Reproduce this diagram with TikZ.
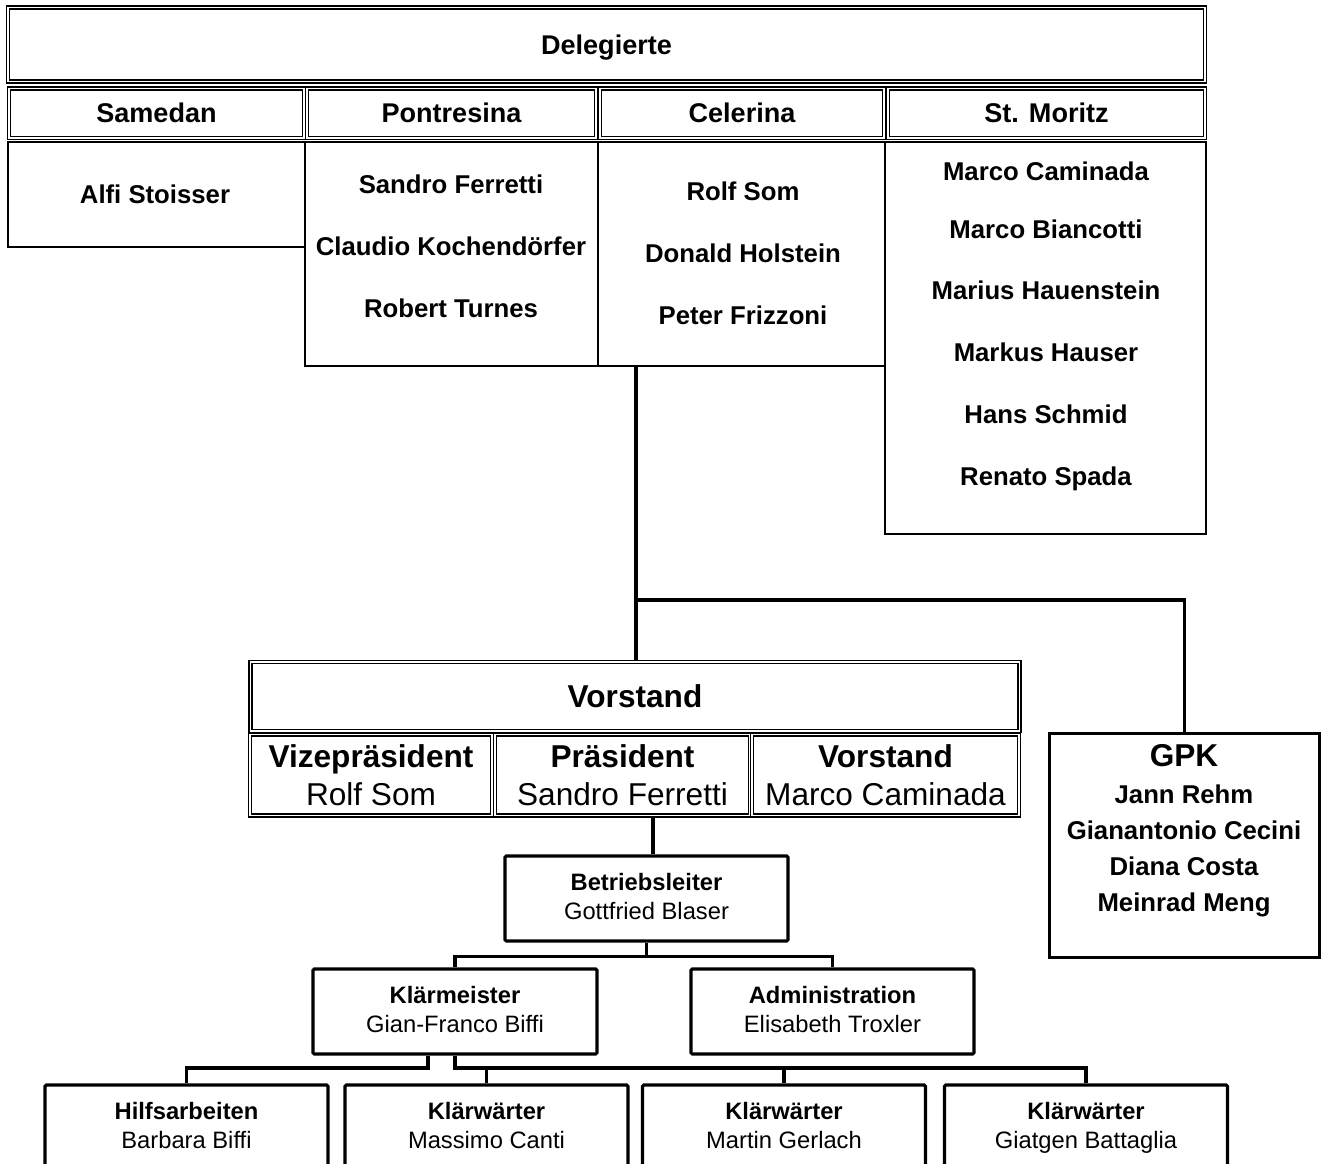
\documentclass[tikz,border=0pt]{standalone}
\usepackage{fontspec}
\setmainfont{Liberation Sans}
\newcommand\tief{\rule[-3.8pt]{0pt}{1pt}}
\tikzset{sc/.style={x=.75pt,y=-.75pt},
  sz/.style 2 args={minimum width=#1*.75pt,minimum height=#2*.75pt,inner sep=0pt},
  dbl/.style={draw,double,line width=1.2pt,double distance=1.2pt},
  box/.style={draw,line width=2pt},
  bx/.style={draw,line width=2.3pt,rounded corners=1pt,align=center,font=\fontsize{17.8}{21.75}\selectfont},
  ln/.style={line width=2.3pt},
  hd/.style={font=\fontsize{20.3}{24}\selectfont\bfseries,text height=14.5pt,text depth=0pt},
  nm/.style={font=\fontsize{19.3}{23}\selectfont\bfseries,inner sep=0pt,text height=13.8pt,text depth=0pt},
  vs/.style={align=center,font=\fontsize{23.7}{28.5}\selectfont}}

\begin{document}
\begin{tikzpicture}[sc]
  \useasboundingbox (0,0) rectangle (1322,1164);
  \clip (0,0) rectangle (1322,1164);
  % Delegierte
  \node[box,sz={297}{105}] (sam) at (156.5,194.5) {};
  \node[box,sz={293}{224}] (pon) at (451.5,254) {};
  \node[box,sz={287}{224}] (cel) at (741.5,254) {};
  \node[box,sz={321}{392}] (stm) at (1045.5,338) {};
  \node[dbl,sz={1197}{74},hd] (del) at (606.5,44.5) {Delegierte};
  \foreach \n/\x/\w/\t in {sam/156.5/295/Samedan,pon/451.5/289/Pontresina,cel/742/284/Celerina,stm/1046.5/317/St. Moritz}
    \node[dbl,sz={\w}{49.5},hd] (\n-h) at (\x,113.25) {\t};
  \node[nm] (sam-1) at (155,194) {Alfi Stoisser};
  \foreach \t [count=\i] in {Sandro Ferretti,Claudio Kochendörfer,Robert Turnes}
    \node[nm] (pon-\i) at (451,{122+62*\i}) {\t};
  \foreach \t [count=\i] in {Rolf Som,Donald Holstein,Peter Frizzoni}
    \node[nm] (cel-\i) at (743,{129+62*\i}) {\t};
  \foreach \y/\t [count=\i] in {171/Marco Caminada,229/Marco Biancotti,290/Marius Hauenstein,352/Markus Hauser,414/Hans Schmid,476/Renato Spada}
    \node[nm] (stm-\i) at (1046,\y) {\t};
  % Vorstand
  \node[dbl,sz={769}{69},font=\fontsize{23.7}{28}\selectfont\bfseries] (vt) at (635,696.5) {Vorstand};
  \node[dbl,sz={242}{81},vs] (vz) at (371,775) {\textbf{Vizepräsident}\\Rolf Som};
  \node[dbl,sz={255}{81},vs] (pr) at (622.5,775) {\textbf{Präsident}\\Sandro Ferretti};
  \node[dbl,sz={267}{81},vs] (vo) at (885.5,775) {\textbf{Vorstand}\\Marco Caminada};
  % GPK
  \node[draw,line width=2.2pt,sz={270}{224}] (gpk) at (1184.5,845.5) {};
  \node[font=\fontsize{23.7}{28}\selectfont\bfseries,inner sep=0pt,text height=17pt,text depth=0pt] (gpk-t) at (1184,755) {GPK};
  \foreach \t [count=\i] in {Jann Rehm,Gianantonio Cecini,Diana Costa,Meinrad Meng}
    \node[nm] (gpk-\i) at (1184,{758+36*\i}) {\t};
  % Betrieb
  \node[bx,sz={283}{85}] (bl) at (646.5,898.5) {\textbf{Betriebsleiter}\\Gottfried Blaser\tief};
  \node[bx,sz={284}{85}] (km) at (455,1011.5) {\textbf{Klärmeister}\\Gian-Franco Biffi\tief};
  \node[bx,sz={283}{85}] (adm) at (832.5,1011.5) {\textbf{Administration}\\Elisabeth Troxler\tief};
  \node[bx,sz={283}{85}] (hi) at (186.5,1127.5) {\textbf{Hilfsarbeiten}\\Barbara Biffi\tief};
  \node[bx,sz={283}{85}] (ma) at (486.5,1127.5) {\textbf{Klärwärter}\\Massimo Canti\tief};
  \node[bx,sz={283}{85}] (mg) at (784,1127.5) {\textbf{Klärwärter}\\Martin Gerlach\tief};
  \node[bx,sz={283}{85}] (gb) at (1086,1127.5) {\textbf{Klärwärter}\\Giatgen Battaglia\tief};
  % Linien
  \coordinate (split) at (636,600);
  \coordinate (pb) at (653,837);
  \coordinate (kl) at (428,1068);
  \coordinate (kr) at (455,1068);
  \draw[ln] (split |- cel.south) -- (split |- vt.north);
  \draw[ln] (split) -| (gpk.north);
  \draw[ln] (pb |- pr.south) -- (pb |- bl.north);
  \draw[ln] (bl.south) -- ++(0,14) -| (km.north);
  \draw[ln] (bl.south) ++(0,14) -| (adm.north);
  \draw[ln] (kl |- km.south) -- (kl) -| (hi.north);
  \draw[ln] (km.south) -- (kr) -| (gb.north);
  \draw[ln] (ma.north) -- (ma.north |- kr);
  \draw[ln] (mg.north) -- (mg.north |- kr);
\end{tikzpicture}
\end{document}
